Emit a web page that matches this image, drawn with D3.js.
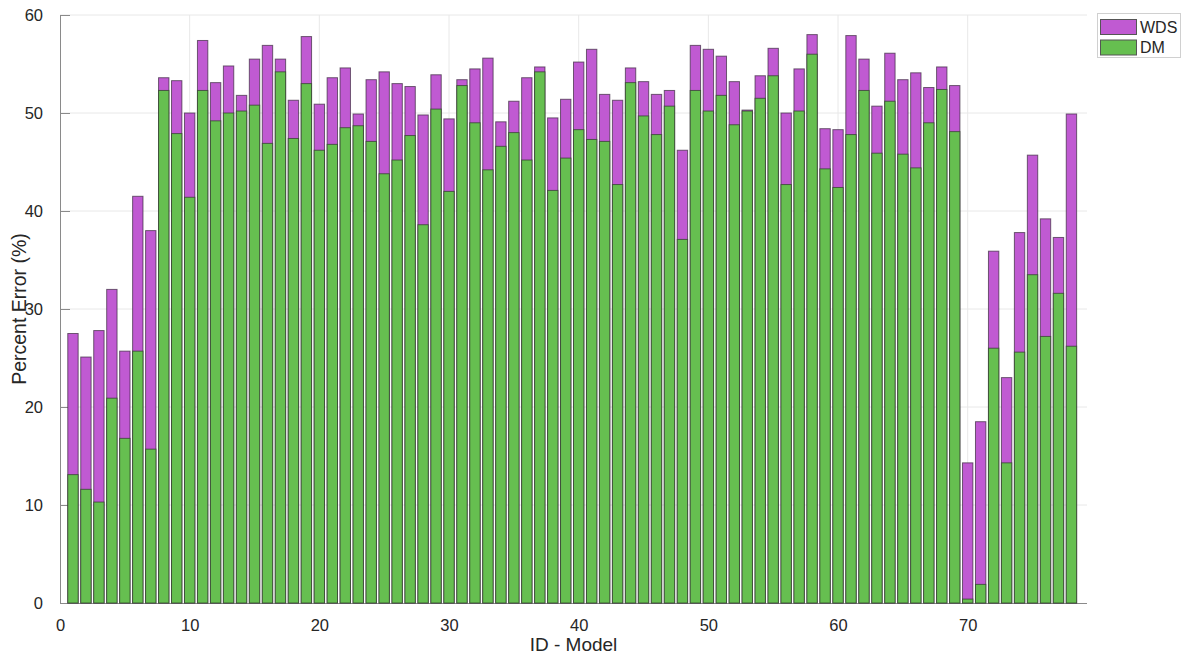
<!DOCTYPE html>
<html>
<head>
<meta charset="utf-8">
<script src="https://cdn.jsdelivr.net/npm/d3@7"></script>
<style>
  html, body { margin: 0; padding: 0; background: #ffffff; }
  svg { display: block; }
  text { font-family: "Liberation Sans", Arial, Helvetica, sans-serif; fill: #262626; }
</style>
</head>
<body>
<svg id="chart" width="1185" height="657"></svg>
<script>
// Model IDs 1..78
const ids = d3.range(1, 79);

// Percent error of the WDS method per model
const wds = [
  27.5, 25.1, 27.8, 32.0, 25.7, 41.5, 38.0, 53.6, 53.3, 50.0,
  57.4, 53.1, 54.8, 51.8, 55.5, 56.9, 55.5, 51.3, 57.8, 50.9,
  53.6, 54.6, 49.9, 53.4, 54.2, 53.0, 52.7, 49.8, 53.9, 49.4,
  53.4, 54.5, 55.6, 49.1, 51.2, 53.6, 54.7, 49.5, 51.4, 55.2,
  56.5, 51.9, 51.3, 54.6, 53.2, 51.9, 52.3, 46.2, 56.9, 56.5,
  55.8, 53.2, 50.3, 53.8, 56.6, 50.0, 54.5, 58.0, 48.4, 48.3,
  57.9, 55.5, 50.7, 56.1, 53.4, 54.1, 52.6, 54.7, 52.8, 14.3,
  18.5, 35.9, 23.0, 37.8, 45.7, 39.2, 37.3, 49.9
];

// Percent error of the DM method per model
const dm = [
  13.1, 11.6, 10.3, 20.9, 16.8, 25.7, 15.7, 52.3, 47.9, 41.4,
  52.3, 49.2, 50.0, 50.2, 50.8, 46.9, 54.2, 47.4, 53.0, 46.2,
  46.8, 48.5, 48.7, 47.1, 43.8, 45.2, 47.7, 38.6, 50.4, 42.0,
  52.8, 49.0, 44.2, 46.6, 48.0, 45.2, 54.2, 42.1, 45.4, 48.3,
  47.3, 47.1, 42.7, 53.1, 49.7, 47.8, 50.7, 37.1, 52.3, 50.2,
  51.8, 48.8, 50.2, 51.5, 53.8, 42.7, 50.2, 56.0, 44.3, 42.4,
  47.8, 52.3, 45.9, 51.2, 45.8, 44.4, 49.0, 52.4, 48.1, 0.4,
  1.9, 26.0, 14.3, 25.6, 33.5, 27.2, 31.6, 26.2
];

const xTicks = [0, 10, 20, 30, 40, 50, 60, 70];
const yTicks = [0, 10, 20, 30, 40, 50, 60];

const seriesNames = ["WDS", "DM"];
const seriesColors = ["#c05ad2", "#66bf50"];

const svg = d3.select("#chart");
const plot = { left: 60, right: 1087, top: 15, bottom: 603 };

const x = d3.scaleLinear().domain([0, 79.2]).range([plot.left, plot.right]);
const y = d3.scaleLinear().domain([0, 60]).range([plot.bottom, plot.top]);
const barW = x(0.8) - x(0);

// grid lines
const grid = svg.append("g");
grid.selectAll("line.gy").data(yTicks.filter(d => d > 0)).join("line")
  .attr("x1", plot.left).attr("x2", plot.right)
  .attr("y1", d => y(d)).attr("y2", d => y(d))
  .attr("stroke", "#e8e8e8").attr("stroke-width", 1);
grid.selectAll("line.gx").data(xTicks.filter(d => d > 0)).join("line")
  .attr("x1", d => x(d)).attr("x2", d => x(d))
  .attr("y1", plot.top).attr("y2", plot.bottom)
  .attr("stroke", "#e8e8e8").attr("stroke-width", 1);

// axes (drawn beneath the bars, ticks pointing inward)
const xAxis = d3.axisBottom(x).tickValues(xTicks).tickSize(-10).tickPadding(16)
  .tickFormat(d3.format("d"));
const yAxis = d3.axisLeft(y).tickValues(yTicks).tickSize(-10).tickPadding(17)
  .tickFormat(d3.format("d"));

const gx = svg.append("g").attr("transform", `translate(0,${plot.bottom})`).call(xAxis);
const gy = svg.append("g").attr("transform", `translate(${plot.left},0)`).call(yAxis);
[gx, gy].forEach(g => {
  g.select(".domain").attr("stroke", "#8a8a8a").attr("stroke-width", 1);
  g.selectAll(".tick line").attr("stroke", "#8a8a8a");
  g.selectAll(".tick text")
    .attr("font-size", "16.5px")
    .attr("fill", "#262626")
    .style("font-family", "'Liberation Sans', Arial, sans-serif");
});
gx.select(".domain").attr("d", `M${plot.left},0.5H${plot.right}`);
gy.select(".domain").attr("d", `M0.5,${plot.bottom}V${plot.top}`);

// bars: WDS drawn first, DM overlaid from the baseline
const bars = svg.append("g");
bars.selectAll("rect.wds").data(ids).join("rect")
  .attr("class", "wds")
  .attr("x", d => x(d) - barW / 2)
  .attr("width", barW)
  .attr("y", (d, i) => y(wds[i]))
  .attr("height", (d, i) => y(0) - y(wds[i]))
  .attr("fill", seriesColors[0])
  .attr("stroke", "#3a2a3e").attr("stroke-opacity", 0.7).attr("stroke-width", 1);
bars.selectAll("rect.dm").data(ids).join("rect")
  .attr("class", "dm")
  .attr("x", d => x(d) - barW / 2)
  .attr("width", barW)
  .attr("y", (d, i) => y(dm[i]))
  .attr("height", (d, i) => y(0) - y(dm[i]))
  .attr("fill", seriesColors[1])
  .attr("stroke", "#2e3a2a").attr("stroke-opacity", 0.7).attr("stroke-width", 1);

// axis titles
svg.append("text")
  .attr("x", (plot.left + plot.right) / 2).attr("y", 651)
  .attr("text-anchor", "middle").attr("font-size", "19px")
  .text("ID - Model");
svg.append("text")
  .attr("transform", `translate(26,${(plot.top + plot.bottom) / 2}) rotate(-90)`)
  .attr("text-anchor", "middle").attr("font-size", "19.5px")
  .text("Percent Error (%)");

// legend
const lg = svg.append("g");
lg.append("rect")
  .attr("x", 1097.5).attr("y", 13.5).attr("width", 83).attr("height", 44)
  .attr("fill", "#ffffff").attr("stroke", "#d0d0d0").attr("stroke-width", 1);
seriesNames.forEach((name, i) => {
  const yy = 19.5 + i * 20.5;
  lg.append("rect")
    .attr("x", 1100.5).attr("y", yy).attr("width", 36).attr("height", 15)
    .attr("fill", seriesColors[i]).attr("stroke", "#555555").attr("stroke-width", 1);
  lg.append("text")
    .attr("x", 1140).attr("y", yy + 7.5).attr("dy", "0.36em")
    .attr("font-size", "16px")
    .text(name);
});
</script>
</body>
</html>
